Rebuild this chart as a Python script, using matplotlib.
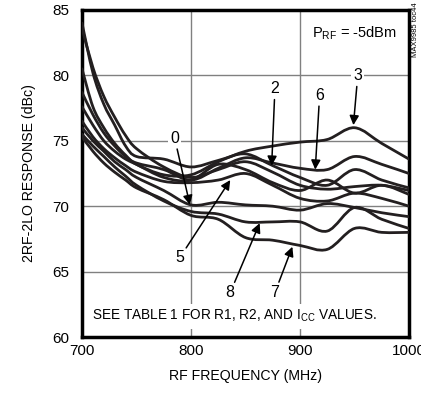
import numpy as np
import matplotlib
matplotlib.use('Agg')
import matplotlib.pyplot as plt
from matplotlib.path import Path
from matplotlib.patches import PathPatch

plt.rcParams['font.family'] = ['Liberation Sans', 'DejaVu Sans']
plt.rcParams['mathtext.fontset'] = 'custom'
plt.rcParams['mathtext.rm'] = 'Liberation Sans'

# frequency points (MHz) and 2RF-2LO response (dBc) for each setting
freq = [700, 710, 720, 730, 740, 750, 775, 800, 825, 850, 875, 900, 925, 950, 975, 1000]
resp_0 = [76.0, 75.0, 74.2, 73.4, 72.8, 72.2, 71.2, 70.1, 70.3, 70.1, 70.0, 69.7, 70.2, 69.9, 69.5, 69.2]
resp_1 = [83.6, 80.6, 78.4, 76.8, 75.4, 74.4, 73.0, 72.2, 72.8, 73.4, 72.6, 71.6, 71.3, 71.5, 71.6, 71.2]
resp_2 = [84.0, 80.2, 77.8, 76.2, 74.6, 73.8, 73.6, 73.0, 73.5, 74.0, 73.1, 72.2, 71.6, 72.8, 72.0, 71.4]
resp_3 = [80.5, 77.6, 76.0, 74.8, 73.9, 73.2, 72.4, 72.4, 73.4, 74.2, 74.6, 74.9, 75.1, 76.0, 74.8, 73.6]
resp_4 = [77.6, 76.2, 75.0, 74.2, 73.6, 73.2, 72.2, 72.0, 73.2, 72.8, 71.8, 71.2, 72.0, 71.0, 71.6, 70.9]
resp_5 = [76.5, 75.3, 74.4, 73.7, 73.1, 72.6, 71.9, 71.8, 72.0, 72.5, 71.6, 70.6, 70.4, 71.0, 70.6, 70.0]
resp_6 = [78.7, 77.0, 75.6, 74.6, 73.8, 73.3, 72.8, 72.0, 72.9, 73.7, 73.3, 72.9, 72.8, 73.8, 73.2, 72.5]
resp_7 = [75.3, 74.2, 73.3, 72.6, 72.0, 71.4, 70.5, 69.3, 69.0, 67.6, 67.4, 67.0, 66.7, 68.3, 68.0, 68.0]
resp_8 = [75.5, 74.6, 73.8, 73.0, 72.3, 71.6, 70.4, 69.6, 69.4, 68.8, 68.8, 68.8, 68.1, 69.9, 69.0, 68.3]
curves = [resp_0, resp_1, resp_2, resp_3, resp_4, resp_5, resp_6, resp_7, resp_8]

# curve labels: (text, label pos, arrow tip)
labels = [('0', (785, 75.2), (799, 70.1)),
          ('2', (877, 79.0), (874, 73.1)),
          ('6', (918, 78.5), (914, 72.8)),
          ('3', (953, 80.0), (949, 76.2)),
          ('5', (790, 66.1), (836, 72.0)),
          ('8', (836, 63.4), (863, 68.7)),
          ('7', (877, 63.4), (893, 66.9))]


def smooth_path(x, y):
    pts = np.column_stack([x, y])
    n = len(pts)
    verts = [pts[0]]
    codes = [Path.MOVETO]
    for i in range(n - 1):
        p0 = pts[max(i - 1, 0)]
        p1 = pts[i]
        p2 = pts[i + 1]
        p3 = pts[min(i + 2, n - 1)]
        verts += [p1 + (p2 - p0) / 6, p2 - (p3 - p1) / 6, p2]
        codes += [Path.CURVE4] * 3
    return Path(verts, codes)


fig = plt.figure(figsize=(4.21, 3.95), dpi=100)
ax = fig.add_axes([0.1948, 0.1468, 0.7767, 0.8279])

for v in [65, 70, 75, 80]:
    ax.axhline(v, color='#808080', lw=1, zorder=1)
for f in [800, 900]:
    ax.axvline(f, color='#808080', lw=1, zorder=1)

for c in curves:
    ax.add_patch(PathPatch(smooth_path(freq, c), fill=False, lw=2, ec='#231f20',
                           zorder=3, capstyle='round', joinstyle='round'))

for txt, pos, tip in labels:
    ax.text(pos[0], pos[1], txt, fontsize=11.5, ha='center', va='center', zorder=4,
            bbox=dict(fc='white', ec='none', pad=1.5))
    ax.annotate('', xy=tip, xytext=pos, zorder=5,
                arrowprops=dict(arrowstyle='-|>', color='black', lw=1.1,
                                mutation_scale=14, shrinkA=8, shrinkB=0))

ax.text(950, 83.2, r'P$_{\mathrm{RF}}$ = -5dBm', fontsize=10.5, ha='center', va='center', zorder=4)
ax.text(709, 61.6, r'SEE TABLE 1 FOR R1, R2, AND I$_{\mathrm{CC}}$ VALUES.', fontsize=9.8,
        ha='left', va='center', zorder=4, bbox=dict(fc='white', ec='none', pad=3))
fig.text(0.986, 0.995, 'MAX9985 toc44', rotation=90, fontsize=5.5, ha='center', va='top')

ax.set_xlim(700, 1000)
ax.set_ylim(60, 85)
ax.set_xticks([700, 800, 900, 1000])
ax.set_yticks([60, 65, 70, 75, 80, 85])
ax.tick_params(length=0, labelsize=11)
ax.tick_params(axis='y', pad=9)
ax.tick_params(axis='x', pad=5)
for s in ax.spines.values():
    s.set_linewidth(2.5)
ax.set_xlabel('RF FREQUENCY (MHz)', fontsize=10.2, labelpad=8)
ax.set_ylabel('2RF-2LO RESPONSE (dBc)', fontsize=10.2, labelpad=12)

fig.savefig('out.png', dpi=100)
